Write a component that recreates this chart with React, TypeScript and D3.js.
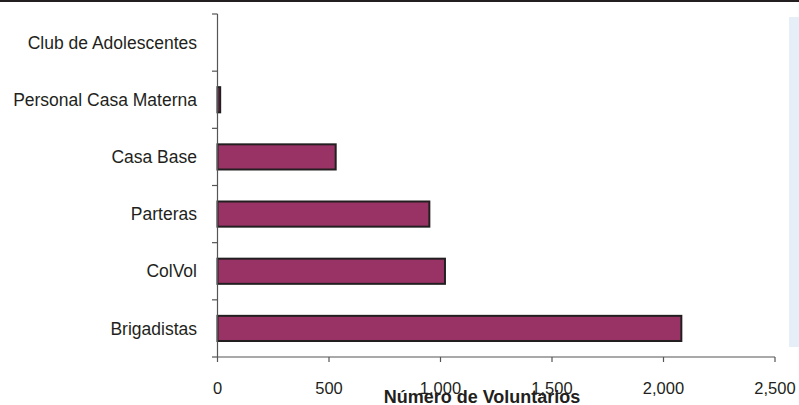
import React from "react";
import * as d3 from "d3";

const categories = [
  "Club de Adolescentes",
  "Personal Casa Materna",
  "Casa Base",
  "Parteras",
  "ColVol",
  "Brigadistas",
];
const values = [0, 12, 530, 950, 1020, 2080];
const xTicks = [0, 500, 1000, 1500, 2000, 2500];
const xTitle = "Número de Voluntarios";

const W = 799;
const H = 405;
const textColor = "#231f20";
const font = "'Liberation Sans', Arial, sans-serif";

export default function App() {
  const x = d3.scaleLinear().domain([0, 2500]).range([217.5, 775]);
  const y = d3.scaleBand<string>().domain(categories).range([14, 357]).padding(0);
  const bw = y.bandwidth();
  const barH = bw * 0.44;
  const boundaries = d3.range(categories.length + 1).map((i) => 14 + i * bw);
  const fmt = d3.format(",");
  return (
    <svg
      width={W}
      height={H}
      style={{ position: "absolute", left: 0, top: 0, background: "#fff" }}
    >
      <rect x={0} y={0} width={W} height={2} fill={textColor} />
      <rect x={789} y={17} width={10} height={330} fill="#e6eef7" />
      {categories.map((c, i) => (
        <rect
          key={c}
          x={x(0)}
          y={(y(c) as number) + bw / 2 - barH / 2}
          width={x(values[i]) - x(0)}
          height={barH}
          fill="#993366"
          stroke={values[i] > 0 ? textColor : "none"}
          strokeWidth={2}
        />
      ))}
      <line x1={x(0)} x2={x(0)} y1={14} y2={357} stroke="#555" strokeWidth={1.2} />
      {boundaries.map((b, i) => (
        <line key={i} x1={212} x2={x(0)} y1={b} y2={b} stroke="#555" strokeWidth={1.2} />
      ))}
      <line x1={x(0)} x2={775} y1={357} y2={357} stroke="#555" strokeWidth={1.2} />
      {xTicks.map((t) => (
        <g key={t}>
          <line x1={x(t)} x2={x(t)} y1={357} y2={362} stroke="#555" strokeWidth={1.2} />
          <text
            x={x(t)}
            y={394}
            textAnchor="middle"
            fontFamily={font}
            fontSize={16.5}
            fill={textColor}
          >
            {fmt(t)}
          </text>
        </g>
      ))}
      {categories.map((c) => (
        <text
          key={c}
          x={197}
          y={(y(c) as number) + bw / 2}
          dy="0.35em"
          textAnchor="end"
          fontFamily={font}
          fontSize={17.5}
          fill={textColor}
        >
          {c}
        </text>
      ))}
      <text
        x={482}
        y={403}
        textAnchor="middle"
        fontFamily={font}
        fontSize={18}
        fontWeight="bold"
        fill={textColor}
      >
        {xTitle}
      </text>
    </svg>
  );
}
